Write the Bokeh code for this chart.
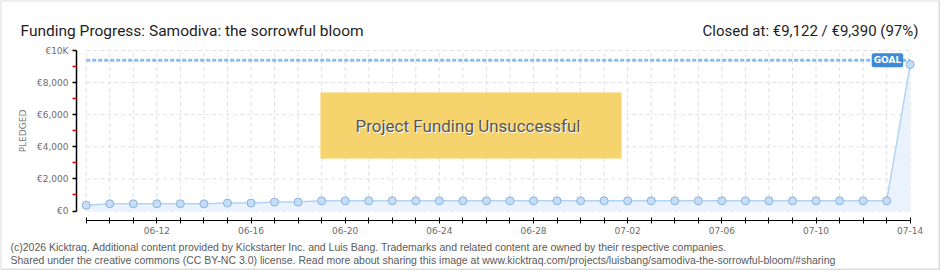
import pandas as pd
from bokeh.plotting import figure
from bokeh.models import Range1d, FixedTicker, Label, BoxAnnotation
from bokeh.embed import file_html
from bokeh.resources import INLINE

W, H = 940, 270

# ---- data ----
dates = pd.date_range("2025-06-09", "2025-07-14", freq="D")
pledged = [360, 450, 450, 450, 450, 450, 495, 495, 555, 555,
           635, 635, 635, 635, 635, 635, 635, 635, 635, 635,
           635, 635, 635, 635, 635, 635, 635, 635, 635, 635,
           635, 635, 635, 635, 635, 9122]
goal = 9390

y_ticks = [0, 2000, 4000, 6000, 8000, 10000]
y_tick_labels = ["€0", "€2,000", "€4,000", "€6,000", "€8,000", "€10K"]
y_minor = [1000, 3000, 5000, 7000, 9000]
x_labels = ["06-12", "06-16", "06-20", "06-24", "06-28", "07-02", "07-06", "07-10", "07-14"]

title_left = "Funding Progress: Samodiva: the sorrowful bloom"
title_right = "Closed at: €9,122 / €9,390 (97%)"
banner = "Project Funding Unsuccessful"
footer1 = ("(c)2026 Kicktraq. Additional content provided by Kickstarter Inc. and Luis Bang. "
           "Trademarks and related content are owned by their respective companies.")
footer2 = ("Shared under the creative commons (CC BY-NC 3.0) license. Read more about sharing this image at "
           "www.kicktraq.com/projects/luisbang/samodiva-the-sorrowful-bloom/#sharing")

# ---- layout geometry (pixels) ----
X_FIRST, X_LAST = 85.7, 909.7      # pixel of first / last day
Y_ZERO, Y_TOP = 210.5, 50.0        # pixel of 0 and of top tick
Y_AXIS_PX, X_AXIS_PX = 76.0, 220.0

t0 = float(dates[0].value // 10**6)
t1 = float(dates[-1].value // 10**6)
px_per_ms = (X_LAST - X_FIRST) / (t1 - t0)
px_per_unit = (Y_ZERO - Y_TOP) / y_ticks[-1]

x_start = t0 - X_FIRST / px_per_ms
x_end = t1 + (W - X_LAST) / px_per_ms
y_end = y_ticks[-1] + Y_TOP / px_per_unit
y_start = -(H - Y_ZERO) / px_per_unit

p = figure(width=W, height=H, x_axis_type="datetime", output_backend="svg",
           toolbar_location=None, title=None,
           x_range=Range1d(x_start, x_end), y_range=Range1d(y_start, y_end),
           min_border=0, min_border_left=0, min_border_right=0,
           min_border_top=0, min_border_bottom=0)
p.background_fill_color = "white"
p.border_fill_color = "white"
p.outline_line_color = None
p.xgrid.visible = False
p.ygrid.visible = False

n = len(dates)
grid_kw = dict(line_color="#e0e0e0", line_width=1, line_dash="4 3")
p.segment(x0=dates, x1=dates, y0=[y_ticks[0]] * n, y1=[y_ticks[-1]] * n, **grid_kw)
p.segment(x0=[dates[0]] * len(y_ticks), x1=[dates[-1]] * len(y_ticks), y0=y_ticks, y1=y_ticks, **grid_kw)

p.varea(x=dates, y1=[0] * n, y2=pledged, fill_color="#eaf3fd")
p.segment(x0=[dates[0]], x1=[dates[-1]], y0=[goal], y1=[goal],
          line_color="#8bbaee", line_width=3, line_dash="4 2")
p.line(dates, pledged, line_color="#b3d3f5", line_width=1.5)
p.scatter(dates, pledged, size=8, fill_color="#c4ddf8", line_color="#8db2db", line_width=1)

# ---- y axis ----
ya = p.yaxis[0]
ya.fixed_location = t0 - (X_FIRST - Y_AXIS_PX) / px_per_ms
ya.ticker = FixedTicker(ticks=y_ticks, minor_ticks=y_minor)
ya.major_label_overrides = {t: l for t, l in zip(y_ticks, y_tick_labels)}
ya.bounds = (y_ticks[0], y_ticks[-1])
ya.axis_line_color = "black"
ya.axis_line_width = 1.5
ya.major_tick_line_color = "black"
ya.major_tick_line_width = 1.5
ya.major_tick_in = 0
ya.major_tick_out = 4
ya.minor_tick_line_color = "#e00000"
ya.minor_tick_line_width = 1.5
ya.minor_tick_in = 0
ya.minor_tick_out = 4
ya.major_label_text_font = "DejaVu Sans"
ya.major_label_text_font_size = "9px"
ya.major_label_text_color = "#6b6b6b"
ya.major_label_standoff = 4
ya.axis_label = "PLEDGED"
ya.axis_label_text_font = "DejaVu Sans"
ya.axis_label_text_font_size = "9px"
ya.axis_label_text_font_style = "normal"
ya.axis_label_text_color = "#7a7a7a"
ya.axis_label_standoff = 6

# ---- x axis ----
xa = p.xaxis[0]
xa.fixed_location = -(X_AXIS_PX - Y_ZERO) / px_per_unit
tick_ms = [float(d.value // 10**6) for d in dates]
xa.ticker = FixedTicker(ticks=tick_ms, minor_ticks=[])
overrides = {}
for d, ms in zip(dates, tick_ms):
    lab = d.strftime("%m-%d")
    overrides[ms] = lab if lab in x_labels else ""
xa.major_label_overrides = overrides
xa.bounds = (tick_ms[0], tick_ms[-1])
xa.axis_line_color = "black"
xa.axis_line_width = 1
xa.major_tick_line_color = "black"
xa.major_tick_in = 3
xa.major_tick_out = 3
xa.minor_tick_line_color = None
xa.major_label_text_font = "DejaVu Sans"
xa.major_label_text_font_size = "9px"
xa.major_label_text_color = "#6b6b6b"
xa.major_label_standoff = 3

# ---- annotations (canvas units: y measured from top) ----
p.add_layout(Label(x=dates[-1], y=goal, x_offset=-7, text="GOAL", text_align="right",
                   text_baseline="middle", text_color="white", text_font="DejaVu Sans",
                   text_font_size="9px", text_font_style="bold",
                   background_fill_color="#3d8ad9", padding=2, border_radius=2))

p.add_layout(BoxAnnotation(left=320, right=621, top=92, bottom=158,
                           left_units="canvas", right_units="canvas",
                           top_units="canvas", bottom_units="canvas",
                           fill_color="#f7d56f", fill_alpha=1, line_color="#f8e39a", line_width=1,
                           hatch_pattern="right_diagonal_line", hatch_color="#efcc63",
                           hatch_alpha=0.5, hatch_scale=4, hatch_weight=1, level="overlay"))
txt_kw = dict(x_units="canvas", y_units="canvas", text_align="center", text_baseline="middle",
              text_font="Roboto", text_font_size="17px", level="overlay")
p.add_layout(Label(x=468.5, y=126, text=banner, text_color="white", **txt_kw))
p.add_layout(Label(x=467.5, y=125, text=banner, text_color="#555555", **txt_kw))

lab_kw = dict(x_units="canvas", y_units="canvas", text_baseline="alphabetic", level="overlay")
p.add_layout(Label(x=20, y=30, text=title_left, text_font="Roboto", text_font_size="15.5px",
                   text_color="#1e1e1e", **lab_kw))
p.add_layout(Label(x=918, y=30, text=title_right, text_align="right", text_font="Roboto",
                   text_font_size="15px", text_color="#1e1e1e", **lab_kw))
p.add_layout(Label(x=10, y=246, text=footer1, text_font="Liberation Sans", text_font_size="10.5px",
                   text_color="#5a5a5a", **lab_kw))
p.add_layout(Label(x=10, y=259, text=footer2, text_font="Liberation Sans", text_font_size="10.5px",
                   text_color="#5a5a5a", **lab_kw))

p.add_layout(BoxAnnotation(left=0, right=939, top=0, bottom=269,
                           left_units="canvas", right_units="canvas",
                           top_units="canvas", bottom_units="canvas",
                           fill_alpha=0, line_color="#8e8e8e", line_width=2, level="overlay"))

open("out.html", "w").write(file_html(p, INLINE))
